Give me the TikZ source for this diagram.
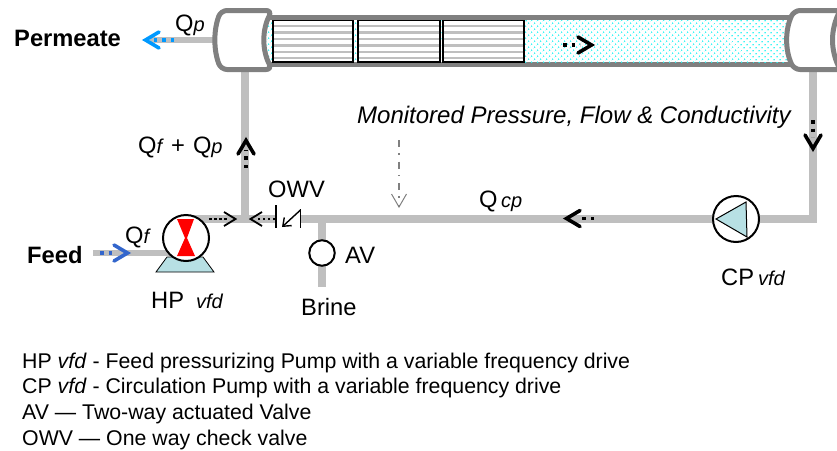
\documentclass[tikz,border=0pt]{standalone}
\usepackage{fontspec}
\setmainfont{Liberation Sans}
\usetikzlibrary{positioning,patterns.meta,arrows.meta}
\definecolor{pipegray}{RGB}{191,191,191}
\definecolor{shellgray}{RGB}{128,128,128}
\definecolor{pumpblue}{RGB}{183,224,228}
\definecolor{feedblue}{RGB}{51,102,204}
\definecolor{permblue}{RGB}{0,153,255}
\definecolor{brackish}{RGB}{40,245,245}
\newcommand{\flowsub}[1]{{\fontsize{20}{22}\selectfont\itshape #1}}
\tikzset{
  pipe/.style={draw=pipegray,line width=8pt},
  thinpipe/.style={draw=pipegray,line width=6pt},
  shell/.style={draw=shellgray,line width=5pt,rounded corners=6pt,fill=white},
  pump/.style={circle,draw,line width=2pt,fill=white,minimum size=46pt,inner sep=0pt},
  txt/.style={inner sep=0pt,anchor=base west,font=\fontsize{23.7}{26}\selectfont},
  legend/.style={inner sep=0pt,anchor=base west,font=\fontsize{21.3}{24}\selectfont},
  flow/.style={line width=3.5pt,dash pattern=on 3.5pt off 5pt},
  thinflow/.style={line width=2.5pt,dash pattern=on 2.5pt off 2.5pt},
  chev/.pic={\draw[pic actions,line width=3.6pt,line cap=round] (-17,-8) -- (-3.5,0) -- (-17,8);},
  thinchev/.pic={\draw[pic actions,line width=1.8pt] (-14,-7) -- (-2.5,0) -- (-14,7);},
  x=1pt,y=-1pt
}
\begin{document}
\begin{tikzpicture}
  \useasboundingbox (0,0) rectangle (837,450);

  % pipes
  \coordinate (leftpipe) at (245,70);
  \coordinate (rightpipe) at (812.5,70);
  \coordinate (rightcorner) at (812.5,218.5);
  \coordinate (tee) at (245,218.5);
  \coordinate (hpout) at (190,218.5);
  \coordinate (feedin) at (93,253);
  \coordinate (hpin) at (170,253);
  \coordinate (perm) at (150,40);
  \coordinate (permcap) at (215,40);
  \coordinate (brine) at (322,287);
  \coordinate (avtee) at (322,218.5);

  \draw[pipe] (leftpipe) -- (tee);
  \draw[pipe] (rightpipe) -- (rightcorner) -- (hpout);
  \draw[thinpipe] (perm) -- (permcap);
  \draw[thinpipe] (feedin) -- (hpin);
  \draw[pipe] (avtee) -- (brine);

  % vessel
  \draw[shell,rounded corners=0pt] (262,17.5) rectangle (800,64.5);
  \fill[pattern={Dots[distance=4pt,radius=.9pt,angle=45]},pattern color=brackish] (262,20) rectangle (790,62);
  \draw[shell] (221,10.5) .. controls (213.5,30) and (213.5,50) .. (221,69.5) -- (272,69.5)
     .. controls (262,50) and (262,30) .. (272,10.5) -- cycle;
  \draw[shell] (794,10.5) .. controls (785,30) and (785,50) .. (794,69.5) -- (850,69.5)
     -- (850,10.5) -- cycle;
  \draw[shellgray,line width=5pt] (840,10.5) .. controls (830,30) and (830,50) .. (840,69.5);

  % elements
  \foreach \xa/\xb in {273/353,358/440,443/524}{
    \fill[white] (\xa,20.5) rectangle (\xb,62);
    \foreach \yy in {26,32.5,39,45.5,52,58}
      \draw[pipegray,line width=2.4pt] (\xa,\yy) -- (\xb,\yy);
    \draw[line width=1.2pt] (\xa,20.5) rectangle (\xb,62);
  }

  % pumps
  \draw[fill=pumpblue,line width=0.8pt] (167,257) -- (203,257) -- (214,272) -- (156,272) -- cycle;
  \node[pump] (hp) at (186,238) {};
  \fill[red] (177,219) -- (194,219) -- (187,238) -- (195,256) -- (177,256) -- (185,238) -- cycle;
  \node[pump] (cp) at (736,219) {};
  \draw[fill=pumpblue,line width=1pt] (716,219) -- (746,202) -- (747,237) -- cycle;
  \node[circle,draw,line width=2pt,fill=white,minimum size=25.5pt,inner sep=0pt] (av) at (322,253) {};

  % check valve
  \fill[white] (277,214) rectangle (300,223);
  \draw[line width=1.4pt] (276,205) -- (276,228);
  \draw[line width=1.4pt,-{Straight Barb[length=7pt,width=11pt,line width=1.4pt]}] (300.5,210) -- (282,227);
  \draw[line width=1.4pt] (300.5,209) -- (300.5,228);

  % flow arrows
  \draw[flow,permblue] (174,40) -- (150,40);
  \pic[color=permblue,rotate=180] at (142,40) {chev};
  \draw[flow,feedblue] (100,253) -- (116,253);
  \pic[color=feedblue] at (131,253) {chev};
  \draw[flow] (563,45) -- (580,45);
  \pic at (595,45) {chev};
  \draw[flow] (246,168) -- (246,150);
  \pic[rotate=90] at (246,137) {chev};
  \draw[flow] (813,120) -- (813,137);
  \pic[rotate=-90] at (813,152) {chev};
  \draw[flow] (594,218.5) -- (578,218.5);
  \pic[rotate=180] at (563,218.5) {chev};
  \draw[thinflow] (209,219) -- (228,219);
  \pic at (238,219) {thinchev};
  \draw[thinflow] (275,219) -- (258,219);
  \pic[rotate=180] at (248,219) {thinchev};

  % monitor
  \coordinate (montop) at (399,140);
  \coordinate (monbot) at (399,208);
  \draw[gray,line width=1.2pt,dash pattern=on 7.3pt off 6pt on 1.2pt off 7pt,-{Straight Barb[length=13pt,width=15pt,line width=1pt]}] (montop) -- (monbot);

  % labels
  \node[txt,font=\fontsize{23.7}{26}\selectfont\bfseries] (permeate) at (14,46) {Permeate};
  \node[txt,font=\fontsize{23.7}{26}\selectfont\bfseries] (feed) at (27,263) {Feed};
  \node[txt] (qp) at (175,31) {Q\flowsub{p}};
  \node[txt] (qfqp) at (138,153) {Q\flowsub{f}\kern9pt+\kern8pt Q\flowsub{p}};
  \node[txt] (qf) at (125,243) {Q\flowsub{f}};
  \node[txt] (owv) at (268,197) {OWV};
  \node[txt] (avlab) at (345,263) {AV};
  \node[txt] (brinelab) at (301,315) {Brine};
  \node[txt] (hplab) at (151,308) {HP\kern12pt\flowsub{vfd}};
  \node[txt] (cplab) at (721,285) {CP\kern4pt\flowsub{vfd}};
  \node[txt] (qcp) at (479,207) {Q\kern3.5pt\flowsub{cp}};
  \node[txt,font=\fontsize{24}{26}\selectfont\itshape] (mon) at (357,123) {Monitored Pressure, Flow \& Conductivity};
  \node[legend] (l1) at (22,368) {HP \textit{vfd} - Feed pressurizing Pump with a variable frequency drive};
  \node[legend] (l2) at (22,393) {CP \textit{vfd} - Circulation Pump with a variable frequency drive};
  \node[legend] (l3) at (22,419) {AV — Two-way actuated Valve};
  \node[legend] (l4) at (22,445) {OWV — One way check valve};
\end{tikzpicture}
\end{document}
